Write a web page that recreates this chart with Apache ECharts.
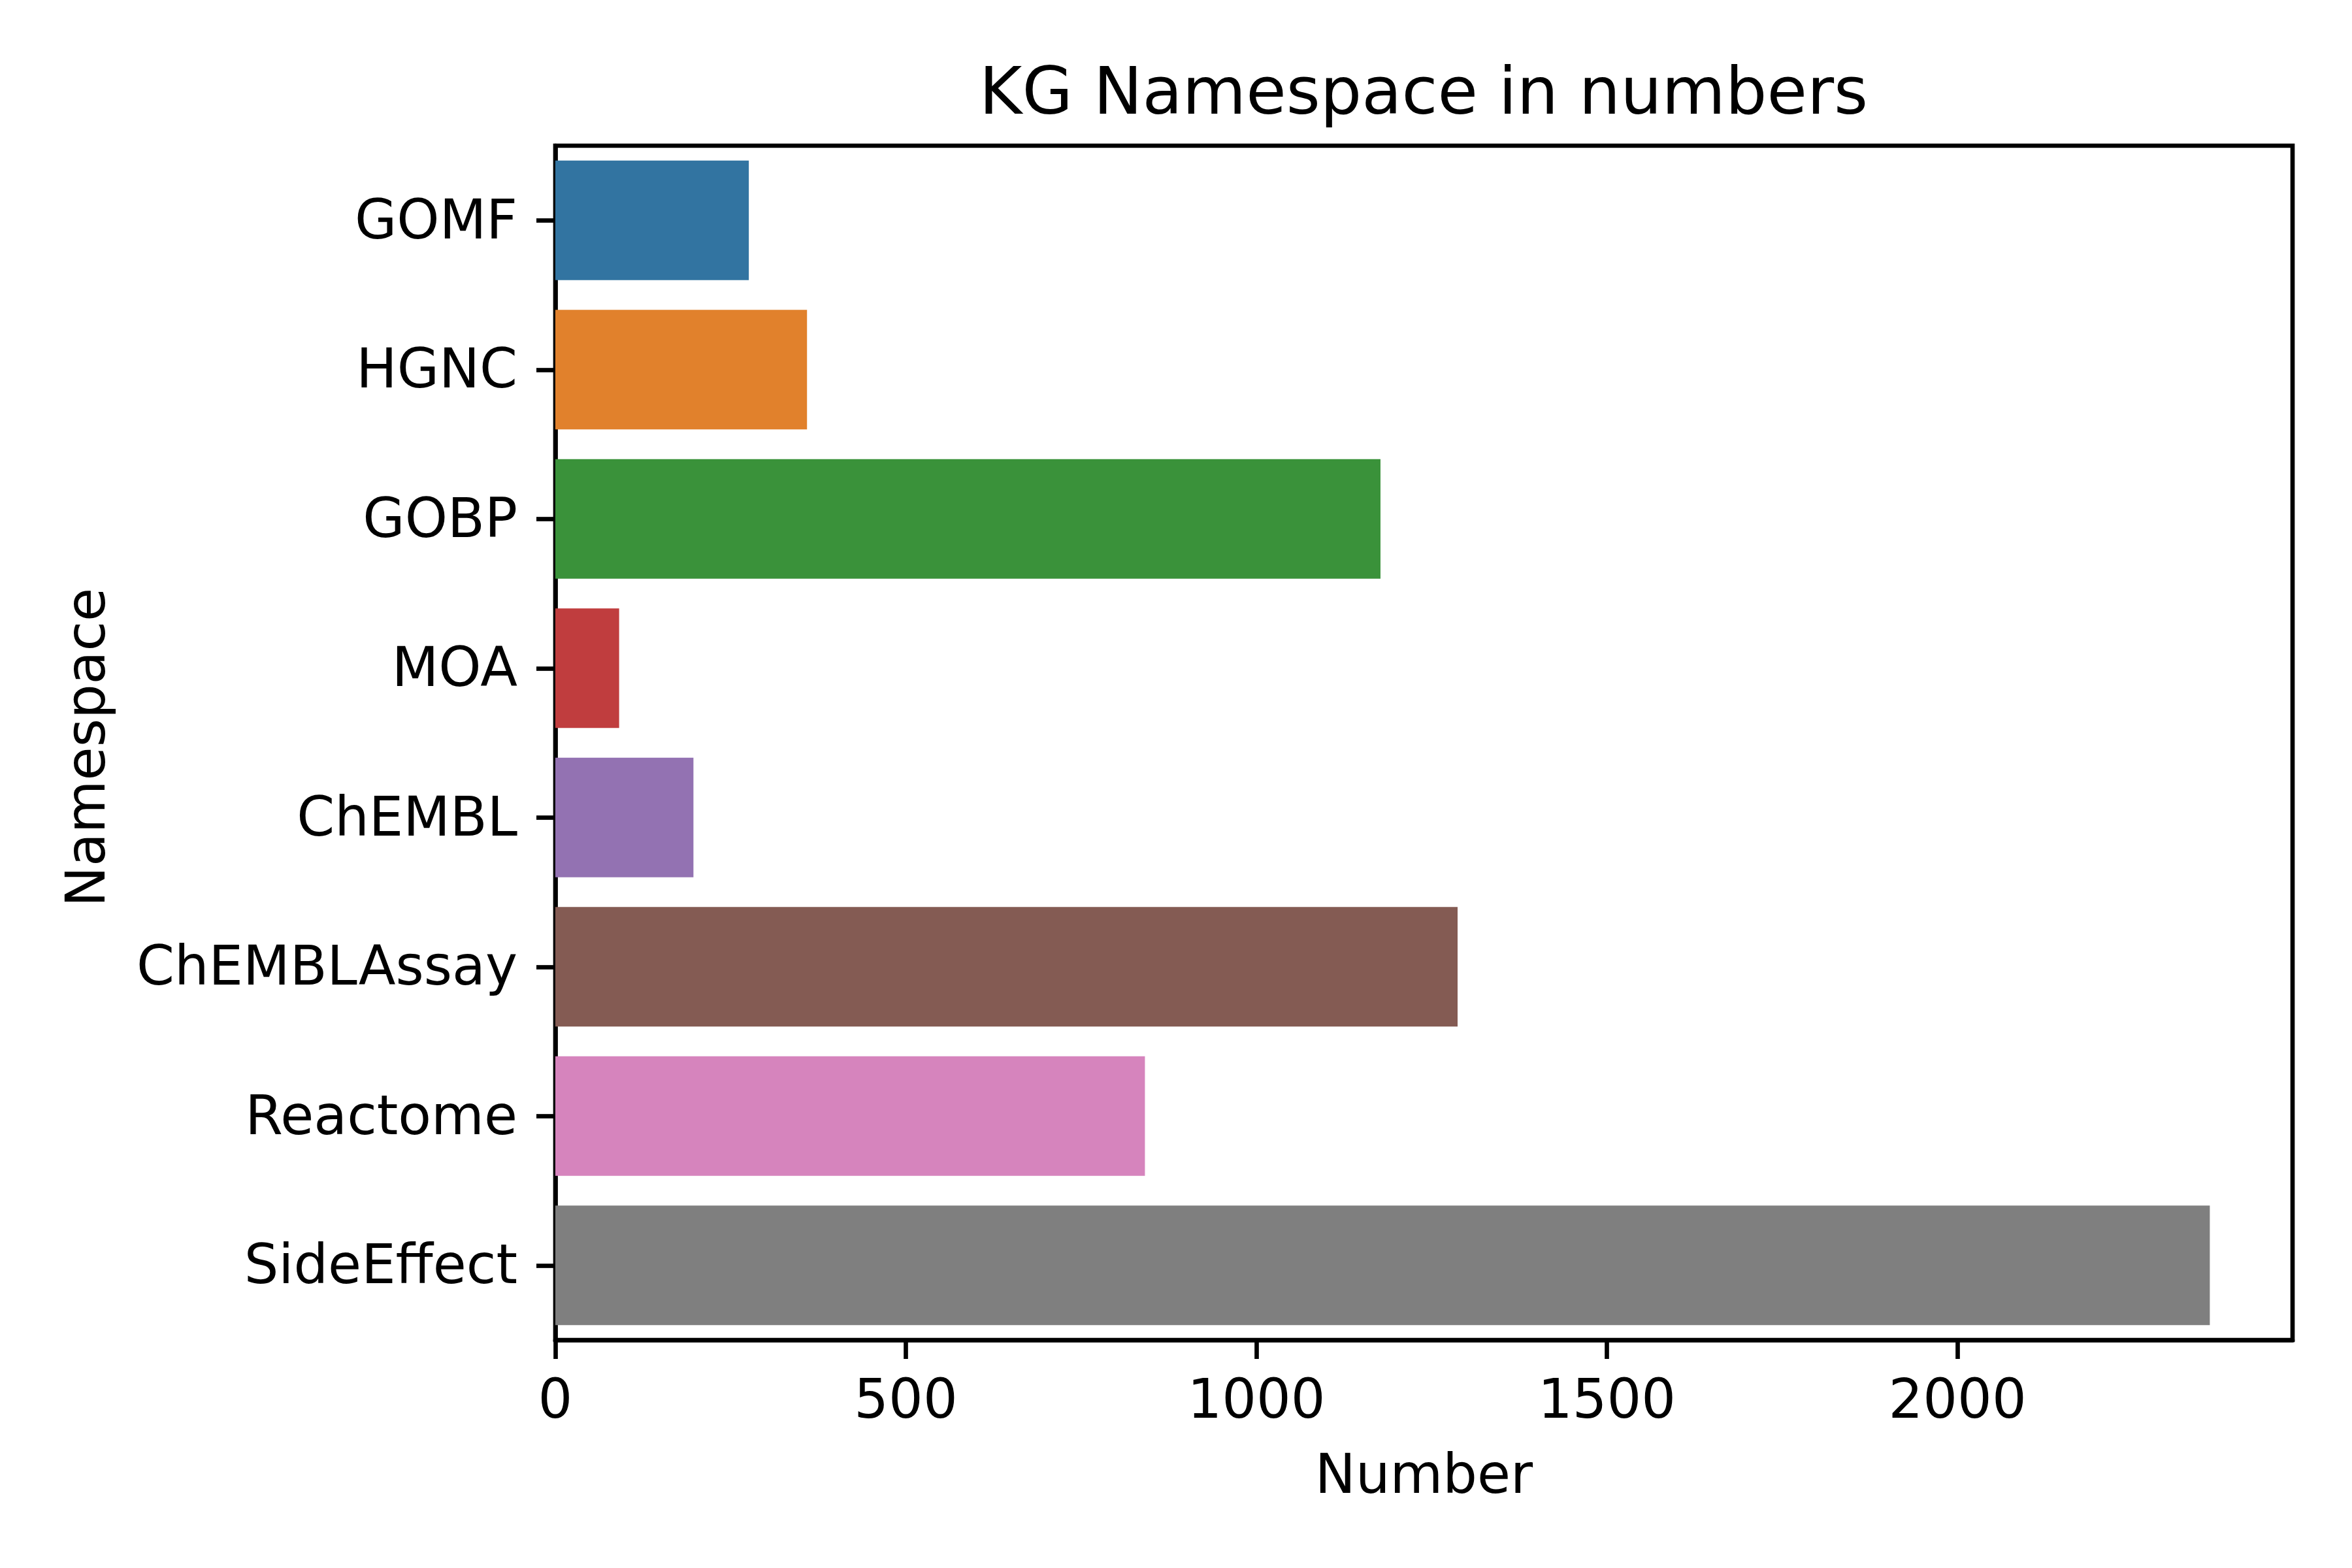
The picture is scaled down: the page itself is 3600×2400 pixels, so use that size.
<!DOCTYPE html>
<html>
<head>
<meta charset="utf-8">
<script src="https://cdn.jsdelivr.net/npm/echarts@6/dist/echarts.min.js"></script>
<style>
html,body{margin:0;padding:0;background:#fff;}
#chart{width:3600px;height:2400px;}
</style>
</head>
<body>
<div id="chart"></div>
<script>
const categories = ['GOMF', 'HGNC', 'GOBP', 'MOA', 'ChEMBL', 'ChEMBLAssay', 'Reactome', 'SideEffect'];
const values = [276, 359, 1177, 91, 197, 1287, 841, 2360];
const colors = ['#3274a1', '#e1812c', '#3a923a', '#c03d3e', '#9372b2', '#845b53', '#d684bd', '#7f7f7f'];
const xTicks = [0, 500, 1000, 1500, 2000];
const titleText = 'KG Namespace in numbers';
const xName = 'Number';
const yName = 'Namespace';

const FONT = 'DejaVu Sans';
const chart = echarts.init(document.getElementById('chart'), null, {renderer: 'canvas'});
const xMax = Math.max.apply(null, values) * 1.05;

chart.setOption({
  backgroundColor: '#ffffff',
  animation: false,
  title: {
    text: titleText,
    left: 2179,
    top: 98,
    padding: 0,
    textAlign: 'center',
    textStyle: {fontFamily: FONT, fontSize: 100, fontWeight: 'normal', color: '#000'}
  },
  grid: {
    left: 850, right: 91, top: 223, bottom: 349,
    show: true, borderColor: '#000', borderWidth: 6.67, backgroundColor: 'transparent'
  },
  xAxis: {
    type: 'value',
    min: 0,
    max: xMax,
    interval: 500,
    name: xName,
    nameLocation: 'middle',
    nameGap: 171,
    nameTextStyle: {fontFamily: FONT, fontSize: 83, color: '#000'},
    axisLine: {show: true, lineStyle: {color: '#000', width: 6.67}},
    axisTick: {show: true, length: 29, lineStyle: {color: '#000', width: 6.67}, customValues: xTicks},
    axisLabel: {fontFamily: FONT, fontSize: 83, color: '#000', margin: 56, customValues: xTicks,
      formatter: function (v) { return String(v); }},
    splitLine: {show: false}
  },
  yAxis: {
    type: 'category',
    data: categories,
    inverse: true,
    name: yName,
    nameLocation: 'middle',
    nameRotate: 90,
    nameGap: 670,
    nameTextStyle: {fontFamily: FONT, fontSize: 83, color: '#000', padding: [0, 14, 0, 0]},
    axisLine: {show: true, lineStyle: {color: '#000', width: 6.67}},
    axisTick: {show: true, alignWithLabel: true, length: 29, lineStyle: {color: '#000', width: 6.67}},
    axisLabel: {fontFamily: FONT, fontSize: 83, color: '#000', margin: 58,
      verticalAlign: 'top', lineHeight: 12},
    splitLine: {show: false}
  },
  series: [{
    type: 'bar',
    data: values.map((v, i) => ({value: v, itemStyle: {color: colors[i]}})),
    barCategoryGap: '20%',
    z: 1
  }]
});
</script>
</body>
</html>
